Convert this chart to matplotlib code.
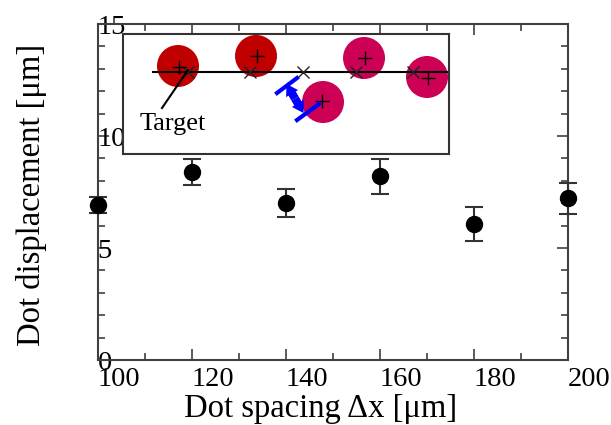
import numpy as np
import matplotlib
matplotlib.use("Agg")
import matplotlib.pyplot as plt
from matplotlib.patches import Circle, FancyArrowPatch

plt.rcParams['font.family'] = ['Liberation Serif', 'DejaVu Serif']

# main data
spacing = [100, 120, 140, 160, 180, 200]
displacement = [6.92, 8.38, 7.02, 8.21, 6.07, 7.22]
err = [0.35, 0.58, 0.63, 0.78, 0.77, 0.70]

# inset schematic (pixel units inside the inset box)
dot_x = [55, 133, 200, 241, 304]
dot_y = [32, 22, 68, 24, 43]
dot_col = ['#C00000', '#C00000', '#CC0055', '#CC0055', '#CC0055']
meas_x = [56, 134, 199, 242, 305]
meas_y = [33, 22, 67, 24, 44]
target_x = [65, 127, 180, 233, 290]
target_line_y = 37.7

fig = plt.figure(figsize=(6.11, 4.25), dpi=100)
ax = fig.add_axes([0.1599, 0.1529, 0.7692, 0.7906])

ax.errorbar(spacing, displacement, yerr=err, fmt='o', color='black',
            ms=11.5, ecolor='#333333', elinewidth=1.5, capsize=6.5,
            capthick=1.5, clip_on=False, zorder=5)

ax.set_xlim(100, 200)
ax.set_ylim(0, 15)
ax.set_xticks([100, 120, 140, 160, 180, 200])
ax.set_xticks(np.arange(110, 200, 20), minor=True)
ax.set_yticks([0, 5, 10, 15])
ax.set_yticks(np.arange(0, 16, 1), minor=True)
ax.tick_params(which='both', direction='in', top=True, right=True,
               color='#404040', width=1.2, labelsize=20.5)
ax.tick_params(which='major', length=8)
ax.tick_params(which='minor', length=5)
ax.tick_params(axis='y', pad=0)
ax.tick_params(axis='x', pad=5)
plt.setp(ax.get_yticklabels(), ha='left')
plt.setp(ax.get_xticklabels(), ha='left')
for s in ax.spines.values():
    s.set_color('#404040')
    s.set_linewidth(1.5)

ax.set_xlabel('Dot spacing \u0394x [\u03bcm]', fontsize=23.5)
ax.set_ylabel('Dot displacement [\u03bcm]', fontsize=23.5)
ax.xaxis.set_label_coords(0.475, -0.10)
ax.yaxis.set_label_coords(-0.107, 0.49)

# inset
ins = fig.add_axes([0.2013, 0.6376, 0.5336, 0.2824])
ins.set_xlim(0, 326)
ins.set_ylim(120, 0)
ins.set_xticks([])
ins.set_yticks([])
for s in ins.spines.values():
    s.set_color('#333333')
    s.set_linewidth(1.5)

for x, y, c in zip(dot_x, dot_y, dot_col):
    ins.add_patch(Circle((x, y), 21, color=c, lw=0, zorder=1))
ins.plot([30, 326], [target_line_y, target_line_y], color='black', lw=1.5, zorder=2)
ins.plot(target_x, [target_line_y] * len(target_x), 'x', color='#222222',
         ms=9, mew=1, zorder=3)
ins.plot(meas_x, meas_y, '+', color='black', ms=10, mew=1, zorder=3)

ins.plot([39, 65], [74, 36], color='black', lw=1.5, zorder=3)
ins.text(17, 90, 'Target', fontsize=19, ha='left', va='center')

# displacement marker: two offset bars and a double-headed arrow
ins.plot([154, 174], [59, 44], color='#0000FF', lw=3, zorder=4)
ins.plot([174, 196], [86, 70], color='#0000FF', lw=3, zorder=4)
mid = (172, 64.5)
for end in [(163.5, 50), (180.5, 79)]:
    ins.add_patch(FancyArrowPatch(mid, end,
                                  arrowstyle='simple,head_length=0.8,head_width=1.0,tail_width=0.6',
                                  mutation_scale=10, color='#0000FF', lw=0,
                                  shrinkA=0, shrinkB=0, zorder=4))

fig.savefig('out.png', dpi=100)
